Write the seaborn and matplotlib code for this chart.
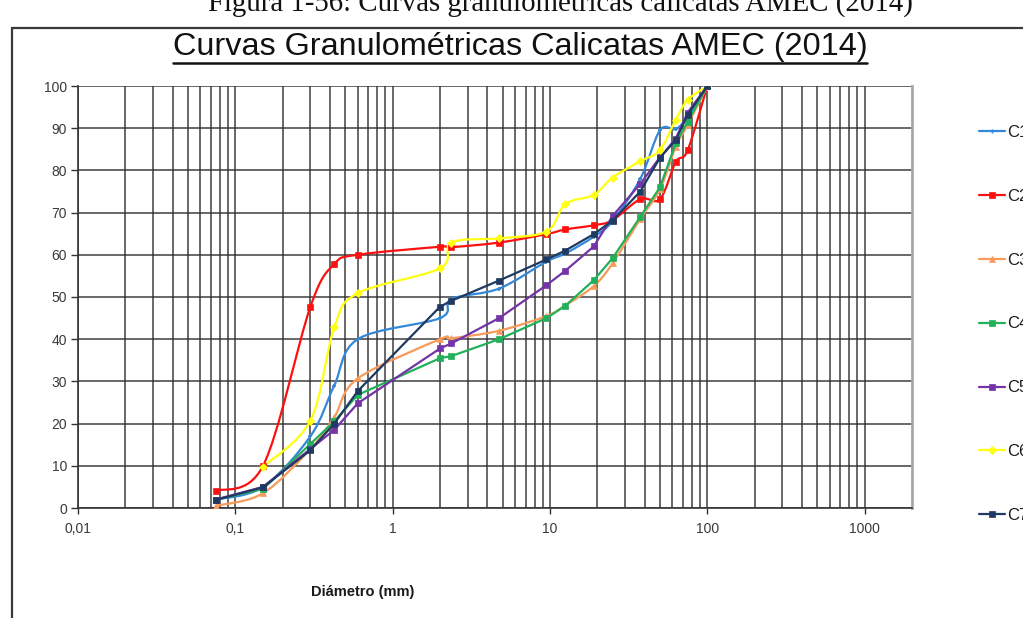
import numpy as np
import pandas as pd
import matplotlib
matplotlib.use("Agg")
import matplotlib.pyplot as plt
import seaborn as sns
from matplotlib.path import Path
from matplotlib.patches import PathPatch
from matplotlib.lines import Line2D
from matplotlib import font_manager as fm

# ---------------- data ----------------
sieves = [0.075, 0.15, 0.3, 0.425, 0.6, 2, 2.36, 4.75, 9.5, 12.5, 19, 25, 37.5, 50, 63, 75, 100]
c1 = [2, 5, 17, 29, 40, 45, 49.5, 52, 58.4, 60.3, 64.3, 68, 78, 89.5, 89.8, 92.7, 100]
c2 = [4, 10, 47.7, 57.8, 60, 61.9, 61.8, 62.9, 64.9, 66, 67, 68.2, 73.2, 73.2, 82, 84.8, 100]
c3 = [0.5, 3.5, 14, 21.5, 30.7, 40, 40.2, 42, 45.5, 48, 52.6, 58, 68.5, 75.5, 85.6, 90.8, 100]
c4 = [2, 4.5, 15.2, 20.5, 26.8, 35.5, 36, 40, 45, 47.9, 54, 59.2, 69, 76, 86.4, 91.5, 100]
c5 = [2, 5, 14, 18.5, 24.8, 37.8, 39, 45, 52.8, 56.2, 62, 69.2, 76.8, 83.1, 87.5, 93.7, 100]
c6 = [np.nan, 9.8, 20.7, 42.8, 50.9, 56.8, 62.9, 63.9, 65.5, 72, 74.2, 78.3, 82.2, 84.8, 92, 96.7, 100]
c7 = [1.9, 4.9, 13.7, 20, 27.7, 47.7, 49.1, 53.9, 58.9, 61, 64.9, 68.1, 75, 83, 87.2, 93.2, 100]
series_names = ["C1", "C2", "C3", "C4", "C5", "C6", "C7"]
series_values = [c1, c2, c3, c4, c5, c6, c7]
x_tick_values = [0.01, 0.1, 1, 10, 100, 1000]
x_tick_labels = ["0,01", "0,1", "1", "10", "100", "1000"]
y_tick_values = list(range(0, 101, 10))

title = "Curvas Granulométricas Calicatas AMEC (2014)"
caption = "Figura 1-56: Curvas granulométricas calicatas AMEC (2014)"
xlabel = "Diámetro (mm)"

# ---------------- styles ----------------
colors = {"C1": "#3488d8", "C2": "#ff1010", "C3": "#f79a5a", "C4": "#22b05a",
          "C5": "#7434a8", "C6": "#ffff10", "C7": "#1f3a62"}
markers = {"C1": "+", "C2": "s", "C3": "^", "C4": "s", "C5": "s", "C6": "D", "C7": "s"}
msize = {"C1": 3.5, "C2": 4.5, "C3": 3.8, "C4": 4.5, "C5": 4.5, "C6": 3.8, "C7": 4.5}
smooth = {"C1": True, "C2": True, "C3": True, "C4": False, "C5": False, "C6": True, "C7": False}

rows = []
for name, vals in zip(series_names, series_values):
    for s, v in zip(sieves, vals):
        rows.append({"serie": name, "d": s, "p": v})
df = pd.DataFrame(rows).dropna()

sns.set_theme(style="white")

def has_font(name):
    try:
        fm.findfont(fm.FontProperties(family=name), fallback_to_default=False)
        return True
    except Exception:
        return False

sans = "Liberation Sans" if has_font("Liberation Sans") else "DejaVu Sans"
serif = "Liberation Serif" if has_font("Liberation Serif") else "DejaVu Serif"
plt.rcParams["font.family"] = [sans, "DejaVu Sans"]

W, H = 1023, 618
fig = plt.figure(figsize=(W / 100, H / 100), dpi=100)
fig.patch.set_facecolor("white")

def px(x, y):
    return x / W, 1 - y / H

L, R, T, B = 78, 912, 86, 508
ax = fig.add_axes([L / W, 1 - B / H, (R - L) / W, (B - T) / H])
ax.set_xscale("log")
ax.set_xlim(0.01, 2000)
ax.set_ylim(0, 100)

# grid
gc = "#2e2e2e"
ax.set_xticks(x_tick_values)
ax.set_xticklabels(x_tick_labels)
minor = [m * 10.0 ** e for e in range(-2, 4) for m in range(2, 10) if m * 10.0 ** e < 2000]
ax.set_xticks(minor, minor=True)
ax.set_yticks(y_tick_values)
ax.grid(True, which="both", axis="x", color=gc, lw=1.2, alpha=0.85)
ax.grid(True, which="major", axis="y", color=gc, lw=1.2, alpha=0.85)
ax.set_axisbelow(True)
ax.tick_params(axis="x", which="minor", length=0)
ax.tick_params(axis="x", which="major", length=4, width=1, color="#333333",
               labelsize=10, labelcolor="#3a3a3a", pad=6, direction="out")
ax.tick_params(axis="y", which="major", length=5, width=1, color="#333333",
               labelsize=10, labelcolor="#3a3a3a", pad=3, direction="out")
ax.tick_params(bottom=True, left=True)
for side in ["left", "bottom"]:
    ax.spines[side].set_color("#333333")
    ax.spines[side].set_linewidth(1.2)
ax.spines["top"].set_visible(False)
ax.spines["right"].set_color("#a8a8a8")
ax.spines["right"].set_linewidth(2)

SX, SY = 158.0, 4.22

def smooth_path(xs, ys):
    pts = np.column_stack([np.log10(xs) * SX, np.asarray(ys) * SY])
    n = len(pts)
    verts = [pts[0]]
    codes = [Path.MOVETO]
    for i in range(n - 1):
        p0 = pts[i - 1] if i > 0 else pts[i]
        p1 = pts[i]
        p2 = pts[i + 1]
        p3 = pts[i + 2] if i + 2 < n else pts[i + 1]
        c1_ = p1 + (p2 - p0) / 6.0
        c2_ = p2 - (p3 - p1) / 6.0
        verts += [c1_, c2_, p2]
        codes += [Path.CURVE4] * 3
    verts = np.array(verts)
    out = np.column_stack([10 ** (verts[:, 0] / SX), verts[:, 1] / SY])
    return Path(out, codes)

handles = []
for name in series_names:
    sub = df[df["serie"] == name]
    c = colors[name]
    if smooth[name]:
        patch = PathPatch(smooth_path(sub["d"].values, sub["p"].values), fill=False,
                          edgecolor=c, lw=1.6, zorder=3, capstyle="round", joinstyle="round")
        ax.add_patch(patch)
        sns.lineplot(data=sub, x="d", y="p", ax=ax, color=c, linestyle="", marker=markers[name],
                     markersize=msize[name], markeredgecolor=c, markeredgewidth=1.2 if name == "C1" else 0.5,
                     estimator=None, sort=False, legend=False, zorder=4)
    else:
        sns.lineplot(data=sub, x="d", y="p", ax=ax, color=c, lw=1.6, marker=markers[name],
                     markersize=msize[name], markeredgecolor=c, markeredgewidth=0.5,
                     estimator=None, sort=False, legend=False, zorder=4)
    handles.append(Line2D([], [], color=c, lw=1.6, marker=markers[name], markersize=msize[name],
                          markeredgecolor=c, markeredgewidth=1.0 if name == "C1" else 0.5))

ax.set_xlabel("")
ax.set_ylabel("")

leg = fig.legend(handles, series_names, loc="upper left", bbox_to_anchor=px(979, 125),
                 frameon=False, fontsize=12, handlelength=1.55, handletextpad=0.15,
                 labelspacing=2.93, borderaxespad=0, borderpad=0)
for t in leg.get_texts():
    t.set_color("#1a1a1a")

# x label
fig.text(*px(363, 592), xlabel, ha="center", va="center", fontsize=10.5, fontweight="bold",
         color="#1a1a1a")

# title with underline
tt = fig.text(*px(520, 55), title, ha="center", va="baseline", fontsize=23.3,
              color="#111111")
fig.canvas.draw()
bb = tt.get_window_extent()
uy = bb.y0 - 1
fig.add_artist(Line2D([bb.x0 / W, bb.x1 / W], [uy / H - 0.0005, uy / H - 0.0005],
                      transform=fig.transFigure, color="#111111", lw=1.8))

# caption (cut by the top edge, as in the source screenshot)
fig.text(*px(560, 11), caption, ha="center", va="baseline", fontsize=20.8,
         family=[serif, "DejaVu Serif"], color="#111111")

# frame
fig.add_artist(Line2D([12 / W, 12 / W], [1 - 28 / H, 0], transform=fig.transFigure,
                      color="#3a3a3a", lw=1.6))
fig.add_artist(Line2D([12 / W, 1], [1 - 28 / H, 1 - 28 / H], transform=fig.transFigure,
                      color="#3a3a3a", lw=1.6))

fig.savefig("out.png", dpi=100, facecolor="white")
